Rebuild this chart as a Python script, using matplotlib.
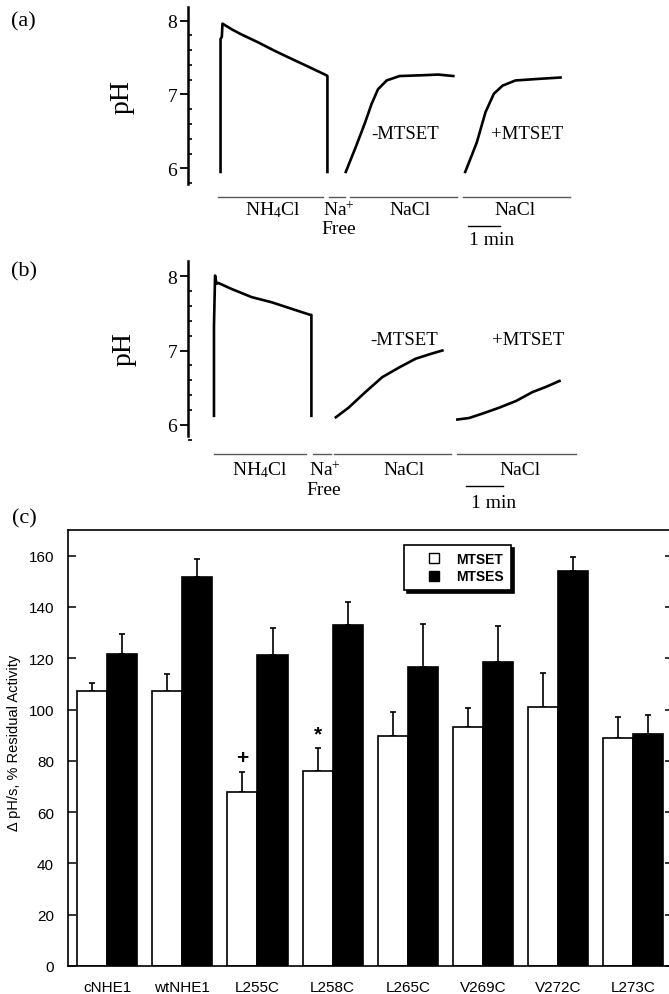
import matplotlib
matplotlib.use('Agg')
import matplotlib.pyplot as plt
from matplotlib.lines import Line2D
from matplotlib.ticker import FixedLocator
import numpy as np

plt.rcParams['mathtext.fontset'] = 'custom'
plt.rcParams['mathtext.rm'] = 'Liberation Serif'
plt.rcParams['mathtext.it'] = 'Liberation Serif:italic'

SERIF = 'Liberation Serif'
SANS = 'Liberation Sans'

# ---- panel (a): pH traces (time in min, pH) ----
a_t1 = [1.02, 1.02, 1.06, 1.08, 1.38, 1.64, 2.17, 2.71, 3.24, 3.78, 4.31, 4.34, 4.34]
a_ph1 = [5.95, 7.75, 7.78, 7.96, 7.88, 7.82, 7.71, 7.59, 7.48, 7.37, 7.26, 7.25, 5.95]
a_t2 = [4.91, 5.24, 5.51, 5.71, 5.91, 6.18, 6.58, 7.25, 7.78, 8.25]
a_ph2 = [5.95, 6.31, 6.62, 6.87, 7.07, 7.19, 7.25, 7.26, 7.27, 7.25]
a_t3 = [8.62, 8.98, 9.25, 9.51, 9.78, 10.18, 10.85, 11.58]
a_ph3 = [5.95, 6.35, 6.76, 7.01, 7.12, 7.19, 7.21, 7.23]
a_sol_start = [0.94, 4.38, 5.04, 8.54]
a_sol_end = [4.20, 4.88, 8.35, 11.87]
a_scalebar = [8.71, 9.71]

# ---- panel (b) ----
b_t1 = [0.72, 0.72, 0.75, 0.79, 0.84, 1.20, 1.75, 2.30, 2.86, 3.36, 3.39, 3.39]
b_ph1 = [6.12, 7.33, 8.01, 7.90, 7.91, 7.83, 7.72, 7.65, 7.56, 7.48, 7.48, 6.12]
b_t2 = [4.06, 4.41, 4.87, 5.33, 5.79, 6.25, 6.70, 6.98]
b_ph2 = [6.10, 6.23, 6.44, 6.64, 6.77, 6.89, 6.96, 7.00]
b_t3 = [7.39, 7.71, 8.08, 8.54, 9.00, 9.45, 9.82, 10.19]
b_ph3 = [6.07, 6.09, 6.15, 6.23, 6.32, 6.44, 6.51, 6.59]
b_sol_start = [0.72, 3.43, 4.01, 7.39]
b_sol_end = [3.25, 3.92, 7.21, 10.63]
b_scalebar = [7.63, 8.63]

sol_labels = ['NH$_4$Cl', 'Na$^{+}$', 'NaCl', 'NaCl']
ph_minor = [5.8, 6.2, 6.4, 6.6, 6.8, 7.2, 7.4, 7.6, 7.8]

# ---- panel (c): residual activity ----
groups = ['cNHE1', 'wtNHE1', 'L255C', 'L258C', 'L265C', 'V269C', 'V272C', 'L273C']
mtset = [107.1, 107.1, 67.8, 76.2, 89.5, 93.2, 100.8, 89.0]
mtset_err = [3.3, 6.9, 8.0, 8.7, 9.7, 7.5, 13.6, 8.2]
mtses = [121.7, 151.5, 121.3, 133.0, 116.7, 118.6, 154.1, 90.6]
mtses_err = [7.6, 7.2, 10.4, 9.0, 16.7, 13.8, 5.4, 7.1]
signif = ['', '', '+', '*', '', '', '', '']

W, H = 669, 995
fig = plt.figure(figsize=(W / 100, H / 100), dpi=100)


def rect(x0, y0, x1, y1):
    return [x0 / W, 1 - y1 / H, (x1 - x0) / W, (y1 - y0) / H]


def trace_panel(ax, traces, sol_start, sol_end, scalebar, spine_lim, lab):
    for t, ph in traces:
        ax.plot(t, ph, color='black', lw=1.9, solid_joinstyle='round')
    for s, e in zip(sol_start, sol_end):
        ax.plot([s, e], [lab['bar'], lab['bar']], color='0.35', lw=1.0)
    ax.plot(scalebar, [lab['scale'], lab['scale']], color='black', lw=1.0)
    for x, txt in zip(lab['xs'], sol_labels):
        ax.text(x, lab['row'], txt, ha='center', va='center', fontsize=14, family=SERIF)
    ax.text(lab['free_x'], lab['free_y'], 'Free', ha='center', va='center', fontsize=14, family=SERIF)
    ax.text(lab['min_x'], lab['min_y'], '1 min', ha='center', va='center', fontsize=14, family=SERIF)
    ax.text(lab['m1'][0], lab['m1'][1], '-MTSET', ha='center', va='center', fontsize=13.5, family=SERIF)
    ax.text(lab['m2'][0], lab['m2'][1], '+MTSET', ha='center', va='center', fontsize=13.5, family=SERIF)

    for s in ['top', 'right', 'bottom']:
        ax.spines[s].set_visible(False)
    ax.spines['left'].set_bounds(*spine_lim)
    ax.spines['left'].set_linewidth(1.8)
    ax.set_xticks([])
    ax.set_yticks([6, 7, 8])
    ax.yaxis.set_minor_locator(FixedLocator(ph_minor))
    ax.tick_params(axis='y', which='major', direction='out', length=6, width=1.3, pad=1.5,
                   labelsize=14)
    ax.tick_params(axis='y', which='minor', direction='in', length=3, width=1.2)
    for lbl in ax.get_yticklabels():
        lbl.set_family(SERIF)
    ax.patch.set_visible(False)


# panel (a)
ax_a = fig.add_axes(rect(187.7, 0, 669, 250))
ax_a.set_xlim(0, 14.95)
ax_a.set_ylim(4.906, 8.294)
trace_panel(ax_a, [(a_t1, a_ph1), (a_t2, a_ph2), (a_t3, a_ph3)],
            a_sol_start, a_sol_end, a_scalebar, (5.79, 8.18),
            dict(bar=5.615, scale=5.222, row=5.44, xs=[2.64, 4.71, 6.91, 10.18],
                 free_x=4.68, free_y=5.18, min_x=9.44, min_y=5.03,
                 m1=(6.75, 6.47), m2=(10.55, 6.47)))

# panel (b)
ax_b = fig.add_axes(rect(187.7, 250, 669, 510))
ax_b.set_xlim(0, 13.19)
ax_b.set_ylim(4.864, 8.368)
trace_panel(ax_b, [(b_t1, b_ph1), (b_t2, b_ph2), (b_t3, b_ph3)],
            b_sol_start, b_sol_end, b_scalebar, (5.85, 8.21),
            dict(bar=5.605, scale=5.178, row=5.40, xs=[1.98, 3.77, 5.92, 9.10],
                 free_x=3.74, free_y=5.13, min_x=8.39, min_y=4.95,
                 m1=(5.93, 7.155), m2=(9.33, 7.155)))

fig.text(122 / W, 1 - 97 / H, 'pH', rotation=90, ha='center', va='center', fontsize=20, family=SERIF)
fig.text(124 / W, 1 - 349 / H, 'pH', rotation=90, ha='center', va='center', fontsize=20, family=SERIF)
fig.text(23 / W, 1 - 22 / H, '(a)', ha='center', va='center', fontsize=16, family=SERIF)
fig.text(24 / W, 1 - 272 / H, '(b)', ha='center', va='center', fontsize=16, family=SERIF)
fig.text(24 / W, 1 - 519 / H, '(c)', ha='center', va='center', fontsize=16, family=SERIF)

# panel (c)
ax_c = fig.add_axes(rect(68, 531, 672.5, 967))
x = np.arange(len(groups))
w = 0.4
zeros = np.zeros(len(groups))
ax_c.bar(x - w / 2, mtset, w, color='white', edgecolor='black', lw=1.2, label='MTSET', zorder=2)
ax_c.bar(x + w / 2, mtses, w, color='black', edgecolor='black', lw=1.2, label='MTSES', zorder=2)
ax_c.errorbar(x - w / 2, mtset, yerr=[zeros, mtset_err], fmt='none', ecolor='black',
              elinewidth=1.2, capsize=2.2, capthick=1.2, zorder=1)
ax_c.errorbar(x + w / 2, mtses, yerr=[zeros, mtses_err], fmt='none', ecolor='black',
              elinewidth=1.2, capsize=2.2, capthick=1.2, zorder=1)
for xi, v, e, s in zip(x, mtset, mtset_err, signif):
    if s:
        ax_c.text(xi - w / 2, v + e + 5.5, s, ha='center', va='center', fontsize=15,
                  fontweight='bold', family=SANS)

ax_c.set_xlim(-0.52, 7.52)
ax_c.set_ylim(0, 170)
ax_c.set_yticks(range(0, 161, 20))
ax_c.set_xticks(x)
ax_c.set_xticklabels(groups, family=SANS, fontsize=11)
ax_c.tick_params(axis='x', length=0, pad=10)
ax_c.tick_params(axis='y', direction='in', length=6, width=1.1, right=True, pad=10,
                 labelsize=11)
for lbl in ax_c.get_yticklabels():
    lbl.set_family(SANS)
for s in ax_c.spines.values():
    s.set_linewidth(1.2)
fig.text(14 / W, 1 - 743 / H, '\u0394 pH/s, % Residual Activity', rotation=90,
         ha='center', va='center', fontsize=10.5, family=SANS)

handles = [Line2D([], [], ls='none', marker='s', ms=7, mfc='white', mec='black', mew=1.0),
           Line2D([], [], ls='none', marker='s', ms=7, mfc='black', mec='black', mew=1.0)]
leg = ax_c.legend(handles, ['MTSET', 'MTSES'], loc='upper left',
                  bbox_to_anchor=(403.8 / W, 1 - 546 / H), bbox_transform=fig.transFigure,
                  borderaxespad=0, fancybox=False, shadow={'color': 'black', 'alpha': 1},
                  frameon=True, framealpha=1, edgecolor='black', handlelength=3.4,
                  handletextpad=-0.1, labelspacing=0.25, borderpad=0.5,
                  prop={'family': SANS, 'size': 10, 'weight': 'bold'})
leg.get_frame().set_linewidth(1.2)

plt.savefig('out.png', dpi=100)
